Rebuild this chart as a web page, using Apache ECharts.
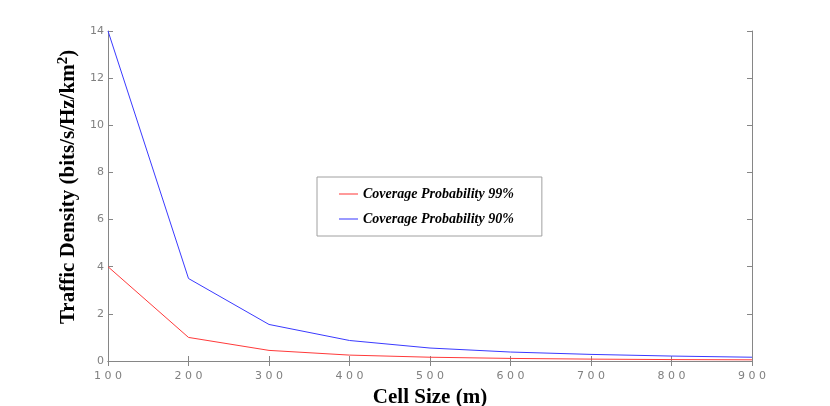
<!DOCTYPE html>
<html>
<head>
<meta charset="utf-8">
<script src="https://cdn.jsdelivr.net/npm/echarts@6/dist/echarts.min.js"></script>
<style>
  html, body { margin: 0; padding: 0; background: #fff; }
  #main { width: 830px; height: 406px; }
</style>
</head>
<body>
<div id="main"></div>
<script>
    var cellSizes = [100, 200, 300, 400, 500, 600, 700, 800, 900];
    var prob99 = [4.0, 1.0, 0.45, 0.25, 0.16, 0.11, 0.08, 0.06, 0.05];
    var prob90 = [14.0, 3.5, 1.55, 0.87, 0.55, 0.38, 0.28, 0.21, 0.16];
    var seriesNames = ['Coverage Probability 99%', 'Coverage Probability 90%'];

    function pairs(xs, ys) {
        return xs.map(function (x, i) { return [x, ys[i]]; });
    }

    var axisGrey = '#868686';
    var tickFont = { color: '#808080', fontSize: 11, fontFamily: 'DejaVu Sans' };

    var myChart = echarts.init(document.getElementById('main'));
    var option = {
        animation: false,
        backgroundColor: '#fff',
        grid: { left: 108, right: 78, top: 31, bottom: 45, outerBoundsMode: 'none', containLabel: false },
        legend: {
            orient: 'vertical',
            left: 317,
            top: 177,
            padding: [10, 28, 10, 22],
            itemGap: 11,
            itemWidth: 19,
            itemHeight: 2,
            borderColor: '#a0a0a0',
            borderWidth: 1,
            icon: 'rect',
            data: [
                { name: seriesNames[0], itemStyle: { color: '#ff9a9a' } },
                { name: seriesNames[1], itemStyle: { color: '#9a9aff' } }
            ],
            textStyle: {
                fontFamily: 'Liberation Serif',
                fontStyle: 'italic',
                fontWeight: 'bold',
                fontSize: 14,
                color: '#000'
            }
        },
        xAxis: [{
            type: 'value',
            min: 100, max: 900, interval: 100,
            name: 'Cell Size (m)',
            nameLocation: 'middle',
            nameGap: 21,
            nameTextStyle: { fontFamily: 'Liberation Serif', fontWeight: 'bold', fontSize: 21, color: '#000' },
            axisLine: { lineStyle: { color: axisGrey } },
            axisTick: { inside: true, length: 5, lineStyle: { color: axisGrey } },
            axisLabel: Object.assign({
                margin: 10,
                formatter: function (v) { return String(v).split('').join(' '); }
            }, tickFont),
            splitLine: { show: false }
        }, {
            type: 'value',
            position: 'top',
            min: 100, max: 900, interval: 100,
            axisLine: { show: true, lineStyle: { color: axisGrey } },
            axisTick: { show: true, inside: true, length: 5, lineStyle: { color: axisGrey } },
            axisLabel: { show: false },
            splitLine: { show: false }
        }],
        yAxis: [{
            type: 'value',
            min: 0, max: 14, interval: 2,
            name: '{a|Traffic Density (bits/s/Hz/km}{s|2}{a|)}',
            nameLocation: 'middle',
            nameGap: 20,
            nameTextStyle: {
                padding: [0, 0, 0, 18],
                rich: {
                    a: { fontFamily: 'Liberation Serif', fontWeight: 'bold', fontSize: 21, color: '#000' },
                    s: { fontFamily: 'Liberation Serif', fontWeight: 'bold', fontSize: 15, color: '#000', verticalAlign: 'top', padding: [0, 0, 10, 0] }
                }
            },
            axisLine: { show: true, lineStyle: { color: axisGrey } },
            axisTick: { show: true, inside: true, length: 5, lineStyle: { color: axisGrey } },
            axisLabel: Object.assign({ margin: 4 }, tickFont),
            splitLine: { show: false }
        }, {
            type: 'value',
            position: 'right',
            min: 0, max: 14, interval: 2,
            axisLine: { show: true, lineStyle: { color: axisGrey } },
            axisTick: { show: true, inside: true, length: 5, lineStyle: { color: axisGrey } },
            axisLabel: { show: false },
            splitLine: { show: false }
        }],
        series: [{
            name: seriesNames[0],
            type: 'line',
            data: pairs(cellSizes, prob99),
            symbol: 'none',
            color: '#ff3a3a',
            lineStyle: { width: 1, color: '#ff3a3a' }
        }, {
            name: seriesNames[1],
            type: 'line',
            data: pairs(cellSizes, prob90),
            symbol: 'none',
            color: '#3a3aff',
            lineStyle: { width: 1, color: '#3a3aff' }
        }]
    };
    myChart.setOption(option);
</script>
</body>
</html>
